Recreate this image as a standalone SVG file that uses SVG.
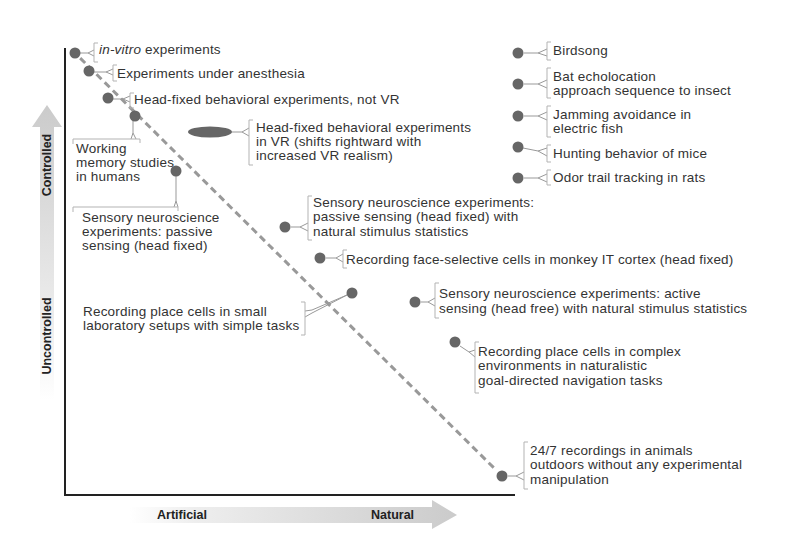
<svg xmlns="http://www.w3.org/2000/svg" width="793" height="553" viewBox="0 0 793 553">
<defs>
<linearGradient id="gv" x1="0" y1="1" x2="0" y2="0">
<stop offset="0" stop-color="#ffffff"/>
<stop offset="0.25" stop-color="#eeeeee"/>
<stop offset="1" stop-color="#cbcbcb"/>
</linearGradient>
<linearGradient id="gh" x1="0" y1="0" x2="1" y2="0">
<stop offset="0" stop-color="#ffffff"/>
<stop offset="0.2" stop-color="#eeeeee"/>
<stop offset="1" stop-color="#cbcbcb"/>
</linearGradient>
<style>
text{font-family:"Liberation Sans",Arial,sans-serif;font-size:13.5px;fill:#333;letter-spacing:0.2px}
.ax{font-weight:bold;font-size:12.5px;fill:#222;letter-spacing:0}
.dot{fill:#666}
.br{fill:none;stroke:#b3b3b3;stroke-width:1}
.cn{fill:none;stroke:#999;stroke-width:1}
</style>
</defs>
<rect width="793" height="553" fill="#fff"/>

<g id="axes">
<path d="M40,400 L40,127 L32,127 L47,105 L62,127 L54,127 L54,400 Z" fill="url(#gv)"/>
<path d="M130,507 L432,507 L432,500 L457,515 L432,529 L432,523 L130,523 Z" fill="url(#gh)"/>
<text class="ax" transform="translate(51,165) rotate(-90)" text-anchor="middle">Controlled</text>
<text class="ax" transform="translate(51,336) rotate(-90)" text-anchor="middle">Uncontrolled</text>
<text class="ax" x="157" y="519">Artificial</text>
<text class="ax" x="371" y="519">Natural</text>
<path d="M65,48 L65,495 L515,495" fill="none" stroke="#222" stroke-width="2"/>
</g>

<g id="connectors">
<path d="M72,50 L496,470" fill="none" stroke="#999" stroke-width="3" stroke-dasharray="7,4.5"/>
<path class="cn" d="M80,53 L88,53 L94,50 M88,53 L94,56"/>
<path class="br" d="M98,43 L94,43 L94,62 L98,62"/>
<path class="cn" d="M94,72 L106,72 L113,69 M106,72 L113,75"/>
<path class="br" d="M117,65 L113,65 L113,81 L117,81"/>
<path class="cn" d="M113,99 L123,99 L130,96 M123,99 L130,102"/>
<path class="br" d="M134,93 L130,93 L130,108 L134,108"/>
<path class="cn" d="M133,121 L133,133 L131,139 M133,133 L136,139"/>
<path class="br" d="M73,144 L73,139 L140,139 L140,143"/>
<path class="cn" d="M176,176 L176,201 L174,207 M176,201 L178,207"/>
<path class="br" d="M73,212 L73,207 L178,207 L178,211"/>
<path class="cn" d="M232,132 L242,132 L249,128 M242,132 L249,136"/>
<path class="br" d="M253,120 L249,120 L249,165 L253,165"/>
<path class="cn" d="M291,227 L300,227 L308,223 M300,227 L308,231"/>
<path class="br" d="M312,196 L308,196 L308,240 L312,240"/>
<path class="cn" d="M326,258 L336,258 L343,254 M336,258 L343,262"/>
<path class="br" d="M347,250 L343,250 L343,268 L347,268"/>
<path class="cn" d="M347,295 L312,310 L305,311 M347,295 L312,313 L305,317"/>
<path class="br" d="M301,302 L305,302 L305,335 L301,335"/>
<path class="cn" d="M421,302 L428,302 L435,298 M428,302 L435,306"/>
<path class="br" d="M439,283 L435,283 L435,318 L439,318"/>
<path class="cn" d="M460,346 L469,352 L475,350 M469,352 L475,357"/>
<path class="br" d="M479,342 L475,342 L475,393 L479,393"/>
<path class="cn" d="M508,476 L516,476 L524,472 M516,476 L524,480"/>
<path class="br" d="M528,442 L524,442 L524,489 L528,489"/>
<path class="cn" d="M524,53 L538,53 L547,49 M538,53 L547,56"/>
<path class="br" d="M551,42 L547,42 L547,60 L551,60"/>
<path class="cn" d="M524,84 L538,84 L547,80 M538,84 L547,88"/>
<path class="br" d="M551,68 L547,68 L547,98 L551,98"/>
<path class="cn" d="M524,116 L538,116 L547,112 M538,116 L547,120"/>
<path class="br" d="M551,106 L547,106 L547,137 L551,137"/>
<path class="cn" d="M523,148 L538,151 L547,148 M538,151 L547,156"/>
<path class="br" d="M551,145 L547,145 L547,162 L551,162"/>
<path class="cn" d="M524,178 L538,178 L547,174 M538,178 L547,182"/>
<path class="br" d="M551,170 L547,170 L547,185 L551,185"/>
</g>

<g id="n-invitro"><circle class="dot" cx="75" cy="53" r="5.5"/><text x="99" y="54"><tspan font-style="italic">in-vitro</tspan> experiments</text></g>
<g id="n-anesthesia"><circle class="dot" cx="89" cy="71" r="5.5"/><text x="117" y="78">Experiments under anesthesia</text></g>
<g id="n-headfixed"><circle class="dot" cx="108" cy="98" r="5.5"/><text x="134" y="104">Head-fixed behavioral experiments, not VR</text></g>
<g id="n-working"><circle class="dot" cx="135" cy="116" r="5.5"/><text x="76" y="153">Working</text><text x="76" y="167">memory studies</text><text x="76" y="181">in humans</text></g>
<g id="n-sensory-passive"><circle class="dot" cx="176" cy="171" r="5.5"/><text x="82" y="222">Sensory neuroscience</text><text x="82" y="236">experiments: passive</text><text x="82" y="250">sensing (head fixed)</text></g>
<g id="n-vr"><ellipse class="dot" cx="210" cy="132" rx="22" ry="5.5"/><text x="256" y="132">Head-fixed behavioral experiments</text><text x="256" y="146">in VR (shifts rightward with</text><text x="256" y="160">increased VR realism)</text></g>
<g id="n-sensory-natural"><circle class="dot" cx="285" cy="227" r="5.5"/><text x="313" y="207">Sensory neuroscience experiments:</text><text x="313" y="221">passive sensing (head fixed) with</text><text x="313" y="236">natural stimulus statistics</text></g>
<g id="n-face"><circle class="dot" cx="320" cy="258" r="5.5"/><text x="346" y="264">Recording face-selective cells in monkey IT cortex (head fixed)</text></g>
<g id="n-place-small"><circle class="dot" cx="352" cy="293" r="5.5"/><text x="83" y="316">Recording place cells in small</text><text x="83" y="330">laboratory setups with simple tasks</text></g>
<g id="n-sensory-active"><circle class="dot" cx="415" cy="302" r="5.5"/><text x="439" y="298">Sensory neuroscience experiments: active</text><text x="439" y="313">sensing (head free) with natural stimulus statistics</text></g>
<g id="n-place-complex"><circle class="dot" cx="455" cy="342" r="5.5"/><text x="478" y="356">Recording place cells in complex</text><text x="478" y="370">environments in naturalistic</text><text x="478" y="385">goal-directed navigation tasks</text></g>
<g id="n-247"><circle class="dot" cx="502" cy="476" r="5.5"/><text x="530" y="455">24/7 recordings in animals</text><text x="530" y="469">outdoors without any experimental</text><text x="530" y="484">manipulation</text></g>
<g id="n-birdsong"><circle class="dot" cx="518" cy="53" r="5.5"/><text x="553" y="55">Birdsong</text></g>
<g id="n-bat"><circle class="dot" cx="518" cy="84" r="5.5"/><text x="553" y="81">Bat echolocation</text><text x="553" y="95">approach sequence to insect</text></g>
<g id="n-jamming"><circle class="dot" cx="518" cy="116" r="5.5"/><text x="553" y="119">Jamming avoidance in</text><text x="553" y="133">electric fish</text></g>
<g id="n-hunting"><circle class="dot" cx="518" cy="147" r="5.5"/><text x="553" y="158">Hunting behavior of mice</text></g>
<g id="n-odor"><circle class="dot" cx="518" cy="178" r="5.5"/><text x="553" y="182">Odor trail tracking in rats</text></g>
</svg>
